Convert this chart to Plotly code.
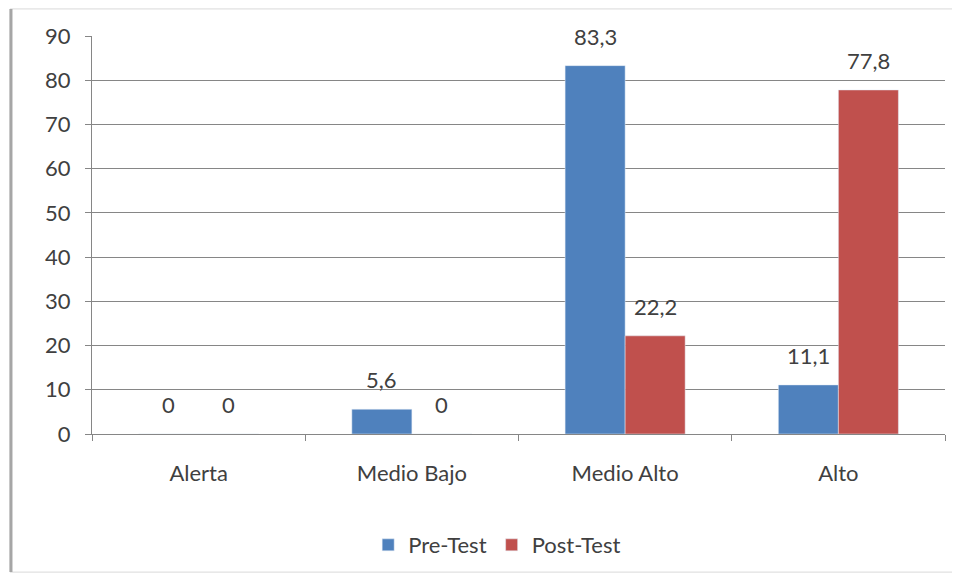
import plotly.graph_objects as go

categories = ["Alerta", "Medio Bajo", "Medio Alto", "Alto"]
pre_test = [0, 5.6, 83.3, 11.1]
post_test = [0, 0, 22.2, 77.8]
pre_labels = ["0", "5,6", "83,3", "11,1"]
post_labels = ["0", "0", "22,2", "77,8"]

txt = "#404040"
fnt = dict(family="Lato, Open Sans, sans-serif", size=22, color=txt)

fig = go.Figure()
fig.add_trace(go.Bar(x=categories, y=pre_test, name="Pre-Test", marker_color="#4F81BD"))
fig.add_trace(go.Bar(x=categories, y=post_test, name="Post-Test", marker_color="#C0504D"))

# data labels sit a little higher than plotly's outside text, so use annotations
for vals, labs, shift in [(pre_test, pre_labels, -30), (post_test, post_labels, 30)]:
    for c, v, t in zip(categories, vals, labs):
        fig.add_annotation(x=c, y=v, text=t, showarrow=False, xshift=shift, yshift=14,
                           yanchor="bottom", font=fnt)

# page body has 8px margin, so the figure is a bit smaller and shifted
fig.update_layout(
    width=952, height=573,
    margin=dict(l=84, r=15, t=28, b=147, autoexpand=False),
    paper_bgcolor="white", plot_bgcolor="white",
    barmode="group", bargap=0.437, bargroupgap=0,
    font=fnt,
    legend=dict(orientation="h", x=0.475, xanchor="center", y=-0.279, yanchor="middle",
                font=fnt, itemwidth=30),
)
fig.update_yaxes(range=[0, 90], dtick=10, showgrid=True, gridcolor="#868686", gridwidth=1,
                 showline=True, linecolor="#868686", ticks="outside", ticklen=6,
                 tickcolor="#868686", zeroline=False, tickfont=fnt, automargin=False,
                 ticklabelstandoff=10)
fig.update_xaxes(showline=True, linecolor="#868686", ticks="outside", ticklen=6,
                 tickcolor="#868686", tickson="boundaries", tickfont=fnt, automargin=False,
                 ticklabelstandoff=20)

# chart frame
fig.add_shape(type="rect", xref="paper", yref="paper", x0=-0.096, x1=1.015, y0=-0.347, y1=1.068,
              line=dict(color="#D9D9D9", width=1), layer="below")
fig.add_shape(type="line", xref="paper", yref="paper", x0=-0.095, x1=-0.095, y0=-0.347, y1=1.068,
              line=dict(color="#A6A6A6", width=3))

fig.write_html("out.html")
